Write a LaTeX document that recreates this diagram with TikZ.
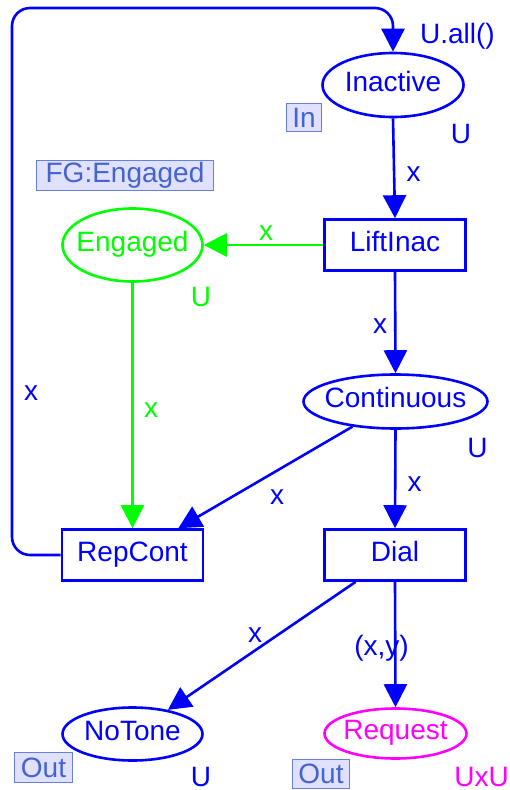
\documentclass[tikz,border=0pt]{standalone}
\usepackage{fontspec}
\setmainfont{Liberation Sans}
\usetikzlibrary{shapes.geometric,arrows.meta}
\definecolor{netblue}{RGB}{0,0,255}
\definecolor{netgreen}{RGB}{0,255,0}
\definecolor{netmagenta}{RGB}{255,0,255}
\definecolor{tagfill}{RGB}{224,224,255}
\definecolor{tagdraw}{RGB}{100,130,220}
\definecolor{tagtext}{RGB}{70,100,205}

\begin{document}
\begin{tikzpicture}[x=1pt,y=-1pt,
  font=\fontsize{28}{30}\selectfont,
  place/.style={ellipse, draw, line width=2.6pt, inner ysep=0pt, inner xsep=-30pt,
    text height=20pt, text depth=8pt},
  trans/.style={rectangle, draw, line width=2.6pt, inner sep=0pt,
    minimum width=141pt, minimum height=51pt,
    text height=20pt, text depth=8pt},
  arc/.style={line width=2.6pt, -{Triangle[length=23pt,width=23pt]}},
  lbl/.style={inner sep=0pt},
  tag/.style={draw=tagdraw, fill=tagfill, text=tagtext, line width=1.2pt,
    inner sep=0pt}]

\useasboundingbox (0,0) rectangle (510,790);

% places
\node[place, netblue, minimum width=141pt, minimum height=64pt] (inactive) at (393,85) {Inactive};
\node[place, netgreen, minimum width=140pt, minimum height=73pt] (engaged) at (132.5,245) {Engaged};
\node[place, netblue, minimum width=184pt, minimum height=54pt] (continuous) at (395.5,401.5) {Continuous};
\node[place, netblue, minimum width=140pt, minimum height=53pt] (notone) at (132.5,734) {NoTone};
\node[place, netmagenta, minimum width=142pt, minimum height=50pt] (request) at (395.5,733.5) {Request};

% transitions
\node[trans, netblue] (liftinac) at (395,245) {LiftInac};
\node[trans, netblue] (repcont) at (132.5,555) {RepCont};
\node[trans, netblue] (dial) at (395,555) {Dial};

% port and fusion tags
\node[tag, minimum width=35pt, minimum height=28pt] (tagin) at (304,117.5) {In};
\node[tag, minimum width=177pt, minimum height=30pt, text depth=7pt] (tagfg) at (125,175.5) {FG:Engaged\hspace{6pt}};
\node[tag, minimum width=58pt, minimum height=30pt] (tagoutl) at (43.5,767.5) {Out};
\node[tag, minimum width=57pt, minimum height=29pt] (tagoutr) at (321,774) {Out};

% colour sets
\node[lbl, netblue] (csinactive) at (461,134) {U};
\node[lbl, netgreen] (csengaged) at (201,297.5) {U};
\node[lbl, netblue] (cscontinuous) at (477.5,448) {U};
\node[lbl, netblue] (csnotone) at (201,777) {U};
\node[lbl, netmagenta] (csrequest) at (481.5,776.5) {UxU};
\node[lbl, netblue] (initinactive) at (457.5,36) {U.all()};

% arcs
\coordinate (looptl) at (12,8);
\draw[arc, netblue, rounded corners=18pt] (repcont.west) -| (looptl) -| (inactive.north);
\draw[arc, netblue] (inactive.south) -- (liftinac.north);
\draw[arc, netgreen] (liftinac.west) -- (engaged.east);
\draw[arc, netblue] (liftinac.south) -- (continuous.north);
\draw[arc, netgreen] (engaged.south) -- (repcont.north);
\draw[arc, netblue] (continuous) -- (repcont);
\draw[arc, netblue] (continuous.south) -- (dial.north);
\draw[arc, netblue] (dial) -- (notone);
\draw[arc, netblue] (dial.south) -- (request.north);

% arc inscriptions
\node[lbl, netblue] (a1) at (413.5,174.5) {x};
\node[lbl, netgreen] (a2) at (266,233.5) {x};
\node[lbl, netblue] (a3) at (380,326.5) {x};
\node[lbl, netblue] (a4) at (31,393) {x};
\node[lbl, netgreen] (a5) at (151,410) {x};
\node[lbl, netblue] (a6) at (277,497.5) {x};
\node[lbl, netblue] (a7) at (414.5,484.5) {x};
\node[lbl, netblue] (a8) at (255,635) {x};
\node[lbl, netblue] (a9) at (381.5,648.5) {(x,y)};
\end{tikzpicture}
\end{document}
